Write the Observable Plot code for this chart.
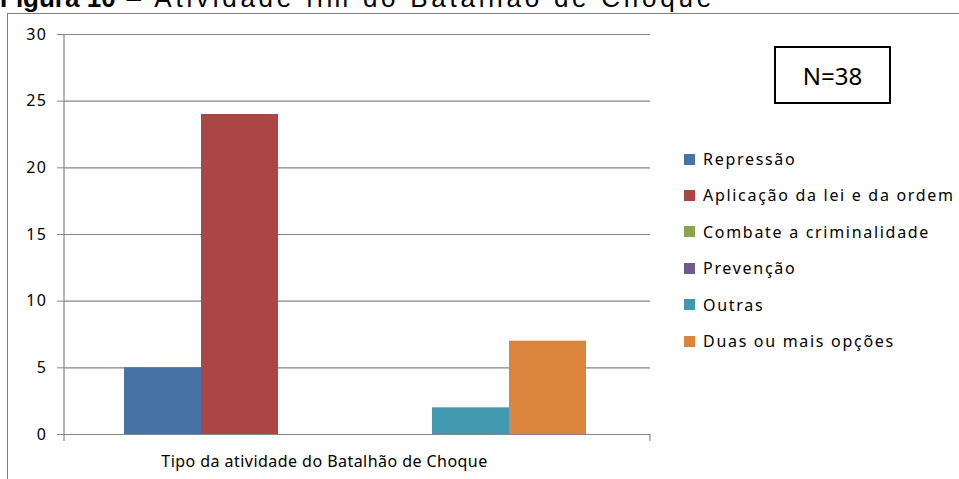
<!DOCTYPE html>
<html>
<head>
<meta charset="utf-8">
<script src="https://cdn.jsdelivr.net/npm/d3@7"></script>
<script src="https://cdn.jsdelivr.net/npm/@observablehq/plot@0.6"></script>
<style>
  body { margin: 0; background: #fff; }
  #wrap { position: relative; width: 959px; height: 479px; overflow: hidden; background: #fff; }
  #border { position: absolute; left: 7px; top: 13px; width: 1000px; height: 520px; border: 1px solid #7f7f7f; box-sizing: border-box; }
  #title { position: absolute; left: 0; top: -15px; font-family: "Liberation Sans", Arial, sans-serif; font-size: 26px; line-height: 26px; white-space: nowrap; color: #000; }
  #title b { font-weight: bold; }
  #title span { letter-spacing: 3.75px; }
  #chart { position: absolute; left: 0; top: 0; }
  #chart g[aria-label="y-axis tick label"] text { letter-spacing: 1.5px; }
  #chart g[aria-label="text"] text { letter-spacing: 0.45px; }
  .leg { position: absolute; font-family: "Noto Sans", sans-serif; font-size: 16px; letter-spacing: 1.7px; color: #000; white-space: nowrap; }
  .sw { position: absolute; width: 11px; height: 11px; }
  #nbox { position: absolute; left: 774px; top: 46px; width: 117px; height: 58px; border: 2px solid #000; box-sizing: border-box; font-family: "Noto Sans", sans-serif; font-size: 24px; display: flex; align-items: center; justify-content: center; color: #000; background: #fff; }
</style>
</head>
<body>
<div id="wrap">
  <div id="border"></div>
  <div id="chart"></div>
  <div id="title"><b>Figura 10</b><span> – Atividade fim do Batalhão de Choque</span></div>
  <div id="nbox">N=38</div>
</div>
<script>
const series = ["Repressão", "Aplicação da lei e da ordem", "Combate a criminalidade", "Prevenção", "Outras", "Duas ou mais opções"];
const values = [5, 24, 0, 0, 2, 7];
const colors = ["#4572A7", "#AA4643", "#89A54E", "#71588F", "#4198AF", "#DB843D"];
const yTicks = [0, 5, 10, 15, 20, 25, 30];
const categoryLabel = "Tipo da atividade do Batalhão de Choque";

const data = series.map((s, i) => ({ s, v: values[i] }));
const gray = "#868686";

const axisFrame = (index, scales, vals, dims) => {
  const y = scales.y;
  const x0 = dims.marginLeft, x1 = dims.width - dims.marginRight;
  const top = y(d3.max(yTicks)), bot = y(0);
  const g = d3.create("svg:g");
  g.append("path")
    .attr("d", `M${x0},${top}V${bot + 7}M${x1},${bot}V${bot + 7}`)
    .attr("stroke", gray).attr("fill", "none").attr("stroke-width", 1.2);
  return g.node();
};

const chart = Plot.plot({
  width: 959,
  height: 479,
  marginTop: 34,
  marginBottom: 45,
  marginLeft: 64,
  marginRight: 309,
  x: { domain: series, range: [122, 588.5], padding: 0, axis: null },
  y: { domain: [0, 30], ticks: yTicks },
  color: { domain: series, range: colors },
  style: { fontFamily: "'Noto Sans', sans-serif", fontSize: "16px", color: "#000", background: "transparent", overflow: "visible" },
  marks: [
    Plot.gridY(yTicks, { stroke: gray, strokeOpacity: 1, strokeWidth: 1.2 }),
    Plot.barY(data, { x: "s", y: "v", fill: "s" }),
    Plot.axisY(yTicks, { tickSize: 7, tickPadding: 10, stroke: gray, strokeOpacity: 1, fill: "#000", label: null, fontSize: 16 }),
    axisFrame,
    Plot.text([categoryLabel], { frameAnchor: "bottom", dy: 32, dx: -33, fill: "#000", fontSize: 16, textAnchor: "middle" })
  ]
});
document.getElementById("chart").appendChild(chart);

const wrap = document.getElementById("wrap");
series.forEach((s, i) => {
  const cy = 159 + 36.4 * i;
  const sw = document.createElement("div");
  sw.className = "sw";
  sw.style.left = "684px";
  sw.style.top = (cy - 5.5) + "px";
  sw.style.background = colors[i];
  wrap.appendChild(sw);
  const t = document.createElement("div");
  t.className = "leg";
  t.style.left = "703px";
  t.style.top = (cy - 11) + "px";
  t.style.lineHeight = "22px";
  t.textContent = s;
  wrap.appendChild(t);
});
</script>
</body>
</html>
